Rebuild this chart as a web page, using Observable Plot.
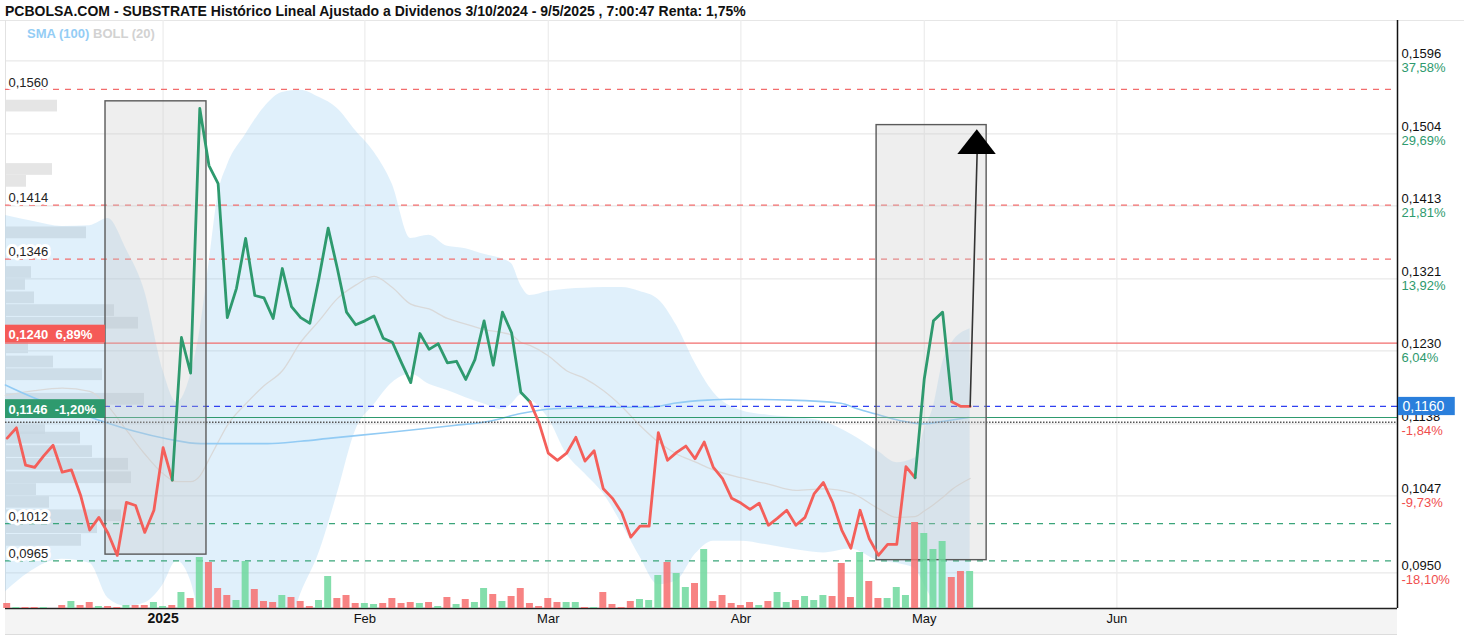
<!DOCTYPE html>
<html><head><meta charset="utf-8">
<script src="https://cdn.jsdelivr.net/npm/d3@7"></script>
<script src="https://cdn.jsdelivr.net/npm/@observablehq/plot@0.6"></script>
<style>
body{margin:0;background:#fff;}
#wrap{position:relative;width:1464px;height:638px;overflow:hidden;background:#fff;font-family:"Liberation Sans",Arial,sans-serif;}
#wrap svg{position:absolute;left:0;top:0;}
#strip{position:absolute;left:5px;top:609px;width:1392px;height:25px;background:#f4f4f4;border-bottom:1px solid #dcdcdc;}
#title{position:absolute;left:5px;top:3px;font:bold 14px "Liberation Sans",Arial,sans-serif;color:#111;white-space:nowrap;}
#topline{position:absolute;left:0;top:20px;width:1464px;height:1px;background:#e6e6e6;}
#legend{position:absolute;left:27px;top:26px;font:bold 13px "Liberation Sans",Arial,sans-serif;white-space:nowrap;z-index:5;}
</style></head>
<body><div id="wrap"><div id="strip"></div><div id="topline"></div>
<div id="title">PCBOLSA.COM - SUBSTRATE Histórico Lineal Ajustado a Dividenos 3/10/2024 - 9/5/2025 , 7:00:47 Renta: 1,75%</div>
<div id="legend"><span style="color:#94cdf5">SMA (100)</span> <span style="color:#d2d2d2">BOLL (20)</span></div>
</div>
<script>
// ---------- DATA ----------
// closing price per trading day (index 0 = 5/12/2024 ... index 105 = 9/5/2025)
const close = [0.1120,0.1133,0.1086,0.1083,0.1098,0.1111,0.1077,0.1080,0.1048,0.1004,
0.1020,0.1000,0.0972,0.1039,0.1035,0.1001,0.1029,0.1108,0.1067,0.1247,
0.1202,0.1536,0.1464,0.1441,0.1272,0.1309,0.1372,0.1300,0.1297,0.1271,
0.1334,0.1286,0.1272,0.1265,0.1322,0.1385,0.1334,0.1279,0.1263,0.1268,
0.1274,0.1246,0.1241,0.1215,0.1190,0.1252,0.1232,0.1239,0.1215,0.1217,
0.1194,0.1219,0.1268,0.1212,0.1279,0.1253,0.1178,0.1166,0.1139,0.1101,
0.1092,0.1101,0.1121,0.1091,0.1104,0.1056,0.1044,0.1026,0.0995,0.1009,
0.1009,0.1127,0.1092,0.1102,0.1110,0.1094,0.1115,0.1083,0.1069,0.1044,
0.1038,0.1030,0.1038,0.1010,0.1019,0.1029,0.1010,0.1020,0.1050,0.1064,
0.1039,0.1004,0.0981,0.1029,0.0993,0.0972,0.0986,0.0986,0.1084,0.1070,
0.1195,0.1268,0.1279,0.1166,0.1160,0.1160];
// daily volume (relative units)
const volume = [5,1,1,1,1,0,3,7,3,6,2,2,1,3,3,3,6,2,3,16,
10,51,46,20,13,8,47,19,7,6,13,11,7,2,8,32,10,13,5,5,
4,5,10,5,6,5,6,2,11,4,9,6,20,14,7,12,20,5,2,10,
6,6,6,1,1,16,4,1,7,9,8,33,46,35,21,25,59,7,13,5,
3,6,3,7,16,6,8,12,8,13,12,45,11,56,27,10,10,21,13,86,
75,59,67,31,37,37];
// bar colour per day: u = up (green), d = down (red)
const volumeDir = ["dudduududd","uddudduudu","duddduuddd","uddduudddu","uddddududu",
"duududdddd","duududdddu","uuduududdd","dduduuduuu","dddudduuud","uuuddu"].join("");
// trend colouring of the price line
const trendStarts = [0,18,57,99,103];
const trendDir = ["down","up","down","up","down"];
// Bollinger (20) bands, sampled
const bandIdx = [-0.2,3,6,9,11,13,15,17,18.5,20,21,22,23,24,26,28,30,32,34,36,38,40,42,44,46,48,50,52,54,55,56,57,59,61,63,65,67,69,71,73,75,77,80,83,86,89,92,95,97,99,100,101,102,103,105];
const bandUp = [0.1401,0.1393,0.1387,0.1388,0.1397,0.1358,0.1305,0.1205,0.1165,0.1200,0.1255,0.1340,0.1427,0.1464,0.1503,0.1537,0.1556,0.1559,0.1550,0.1536,0.1508,0.1481,0.1440,0.1372,0.1376,0.1362,0.1359,0.1352,0.1346,0.1340,0.1313,0.1300,0.1305,0.1308,0.1309,0.1310,0.1310,0.1305,0.1295,0.1262,0.1215,0.1178,0.1155,0.1149,0.1146,0.1141,0.1125,0.1103,0.1089,0.1095,0.1130,0.1160,0.1215,0.1240,0.1258];
const bandMid = [0.1174,0.1180,0.1183,0.1179,0.1160,0.1130,0.1100,0.1075,0.1065,0.1065,0.1072,0.1093,0.1115,0.1136,0.1163,0.1186,0.1205,0.1241,0.1268,0.1296,0.1313,0.1324,0.1310,0.1289,0.1283,0.1271,0.1264,0.1257,0.1253,0.1250,0.1241,0.1237,0.1224,0.1205,0.1195,0.1180,0.1160,0.1136,0.1115,0.1100,0.1090,0.1080,0.1070,0.1062,0.1054,0.1056,0.1051,0.1031,0.1020,0.1021,0.1028,0.1036,0.1045,0.1055,0.1069];
const bandLow = [0.0926,0.0955,0.0967,0.0962,0.0918,0.0908,0.0912,0.0935,0.0965,0.0940,0.0895,0.0850,0.0805,0.0808,0.0822,0.0836,0.0855,0.0923,0.0975,0.1050,0.1130,0.1162,0.1190,0.1201,0.1188,0.1180,0.1171,0.1163,0.1156,0.1163,0.1174,0.1169,0.1145,0.1100,0.1075,0.1050,0.1012,0.0970,0.0935,0.0940,0.0973,0.0990,0.0990,0.0985,0.0979,0.0975,0.0980,0.0965,0.0962,0.0955,0.0935,0.0912,0.0880,0.0862,0.0830];
// SMA (100), sampled
const smaIdx = [-0.2,2.9,6.6,10.2,13.8,17.5,21.1,24.7,28.4,32,35.3,41.5,48.7,52.4,56,59.6,65,70.2,72.7,76.4,78.9,85.4,90.9,92.7,94.5,97.4,99.9,102.5,104.8];
const smaVal = [0.1187,0.1171,0.1157,0.1142,0.1129,0.1119,0.1113,0.1113,0.1113,0.1116,0.1120,0.1127,0.1136,0.1141,0.1151,0.1157,0.1159,0.1159,0.1164,0.1168,0.1169,0.1168,0.1164,0.1157,0.1151,0.1142,0.1138,0.1142,0.1146];
// volume-by-price profile
const profPrice = [0.1539,0.1459,0.1444,0.1379,0.1329,0.1314,0.1297,0.1281,0.1265,0.1234,0.1216,0.1200,0.1169,0.1132,0.1120,0.1103,0.1087,0.1070,0.1055,0.1039,0.1022,0.1007,0.0991];
const profVol = [52,47,21,81,26,20,29,109,133,23,48,97,139,40,75,87,123,126,31,44,116,92,76];
// axis ticks
const monthIdx = [17,39,59,80,100,121];
const monthLabels = ["2025","Feb","Mar","Abr","May","Jun"];
const rightTicks = [0.1596,0.1504,0.1413,0.1321,0.1230,0.1138,0.1047,0.0950];
const rightPct = ["37,58%","29,69%","21,81%","13,92%","6,04%","-1,84%","-9,73%","-18,10%"];
// levels
const lastPrice = 0.1160;
const redDashLevels = [0.1560,0.1414,0.1346];
const greenDashLevels = [0.1012,0.0965];
const redLevel = 0.1240, redLevelPct = "6,89%";
const greenLevel = 0.1146, greenLevelPct = "-1,20%";
const dottedLevel = 0.1140;
// annotation boxes and arrow (index, price)
const boxes = [{i1:10.72,i2:21.73,p1:0.0973,p2:0.1545},{i1:94.8,i2:106.8,p1:0.0966,p2:0.1515}];
const arrowLine = [{i:105,p:0.1160},{i:105.78,p:0.1487}];
const arrowHead = [{i:103.66,lo:0.1478,hi:0.1478},{i:105.78,lo:0.1478,hi:0.1509},{i:107.85,lo:0.1478,hi:0.1478}];

// ---------- CHART ----------
const W=1464,H=638,mL=5,mR=67,mT=20,mB=30;
const xDom=[-0.185,151.6], yDom=[0.0905,0.1647];
const GREEN="#2e9a6e", RED="#f45f5a", LRED="#f26d6d", LGREEN="#3aa57a";
const fmt = v => v.toFixed(4).replace(".",",");
const base = {width:W,height:H,marginLeft:mL,marginRight:mR,marginTop:mT,marginBottom:mB,
  style:{background:"transparent",fontFamily:"Liberation Sans, Arial, sans-serif",overflow:"visible"}};
const wrap=document.getElementById("wrap");

// layer 1: volume profile
const prof = profPrice.map((p,k)=>({p,v:profVol[k]}));
wrap.appendChild(Plot.plot({...base,
  x:{domain:[0,1392],axis:null}, y:{domain:yDom,axis:null},
  marks:[Plot.rectX(prof,{x1:0,x2:"v",y1:d=>d.p-0.00074,y2:d=>d.p+0.00074,fill:"#dcdcdc",fillOpacity:0.75})]
}));

// layer 2: main chart
const band = bandIdx.map((i,k)=>({i,up:bandUp[k],mid:bandMid[k],lo:bandLow[k]}));
const sma = smaIdx.map((i,k)=>({i,v:smaVal[k]}));
const segs=[];
trendStarts.forEach((s,k)=>{const e=k+1<trendStarts.length?trendStarts[k+1]:close.length-1;
  for(let i=s;i<=e;i++) segs.push({i,p:close[i],seg:k,dir:trendDir[k]});});
const months = monthIdx.map((i,k)=>({i,t:monthLabels[k]}));
const rt = rightTicks.map((v,k)=>({v,pct:rightPct[k]}));
const xMax=xDom[1], xMin=xDom[0];

wrap.appendChild(Plot.plot({...base,
  x:{domain:xDom,axis:null}, y:{domain:yDom,axis:null},
  marks:[
    Plot.ruleY(rightTicks,{stroke:"#e9e9e9",strokeWidth:1.2}),
    Plot.ruleX(monthIdx,{stroke:"#ececec",strokeWidth:1.2}),
    Plot.ruleX([xMin],{stroke:"#e2e2e2"}),
    Plot.areaY(band,{x:"i",y1:"lo",y2:"up",fill:"#8ec9f0",fillOpacity:0.28,curve:"monotone-x",clip:true}),
    Plot.line(band,{x:"i",y:"mid",stroke:"#d9d9d9",strokeWidth:1.3,curve:"monotone-x"}),
    Plot.line(sma,{x:"i",y:"v",stroke:"#92cbf4",strokeWidth:1.6,curve:"monotone-x"}),
    Plot.ruleY(redDashLevels,{stroke:LRED,strokeWidth:1.2,strokeDasharray:"6,6"}),
    Plot.ruleY(greenDashLevels,{stroke:LGREEN,strokeWidth:1.2,strokeDasharray:"6,6"}),
    Plot.ruleY([redLevel],{stroke:LRED,strokeWidth:1.2}),
    Plot.ruleY([greenLevel],{stroke:GREEN,strokeWidth:1.2}),
    Plot.ruleY([dottedLevel],{stroke:"#555",strokeWidth:1.6,strokeDasharray:"1.5,1.5"}),
    Plot.ruleY([lastPrice],{stroke:"#2f3ff0",strokeWidth:1.4,strokeDasharray:"6,5"}),
    Plot.rect(boxes,{x1:"i1",x2:"i2",y1:"p1",y2:"p2",fill:"#c8c8c8",fillOpacity:0.31,stroke:"#5a5a5a",strokeWidth:1.4}),
    Plot.line(segs,{x:"i",y:"p",z:"seg",stroke:d=>d.dir==="up"?GREEN:RED,strokeWidth:2.8,strokeLinejoin:"round"}),
    Plot.line(arrowLine,{x:"i",y:"p",stroke:"#333",strokeWidth:1.6}),
    Plot.areaY(arrowHead,{x:"i",y1:"lo",y2:"hi",fill:"#000"}),
    // left level labels
    Plot.text([...redDashLevels,...greenDashLevels],{y:d=>d,text:fmt,frameAnchor:"left",textAnchor:"start",dx:3,dy:-7,fontSize:13,fill:"#222",stroke:"white",strokeWidth:6,paintOrder:"stroke"}),
    Plot.rect([redLevel],{x1:xMin,x2:xMin+10.9,y1:d=>d,y2:d=>d+0.00225,fill:"#f55a57"}),
    Plot.text([redLevel],{y:d=>d,text:d=>fmt(d)+"\u00a0 "+redLevelPct,frameAnchor:"left",textAnchor:"start",dx:3,dy:-8,fontSize:13,fontWeight:"bold",fill:"white"}),
    Plot.rect([greenLevel],{x1:xMin,x2:xMin+10.9,y1:d=>d,y2:d=>d+0.00225,fill:GREEN}),
    Plot.text([greenLevel],{y:d=>d,text:d=>fmt(d)+"\u00a0 "+greenLevelPct,frameAnchor:"left",textAnchor:"start",dx:3,dy:-8,fontSize:13,fontWeight:"bold",fill:"white"}),
    // frame
    Plot.ruleX([xMax],{stroke:"#111",strokeWidth:1.5}),
    Plot.ruleY([yDom[0]],{stroke:"#222",strokeWidth:1.5}),
    // right axis
    Plot.text(rt,{y:"v",text:d=>fmt(d.v),frameAnchor:"right",textAnchor:"start",dx:4,dy:-7,fontSize:13,fill:"#111"}),
    Plot.text(rt,{y:"v",text:"pct",frameAnchor:"right",textAnchor:"start",dx:4,dy:7,fontSize:13,fill:d=>d.pct.startsWith("-")?"#f04e4e":GREEN}),
    Plot.rect([lastPrice],{x1:xMax+0.1,x2:xMax+6.3,y1:d=>d-0.00116,y2:d=>d+0.00114,fill:"#2a7fdc"}),
    Plot.text([lastPrice],{y:d=>d,text:fmt,frameAnchor:"right",textAnchor:"start",dx:5,fontSize:14,fill:"white"}),
    // x axis labels
    Plot.text(months.slice(0,1),{x:"i",text:"t",frameAnchor:"bottom",dy:14,fontSize:14,fontWeight:"bold",fill:"#111"}),
    Plot.text(months.slice(1),{x:"i",text:"t",frameAnchor:"bottom",dy:14,fontSize:13,fill:"#111"})
  ]
}));

// layer 3: volume bars
const vol = volume.map((v,i)=>({i,v,dir:volumeDir[i]}));
wrap.appendChild(Plot.plot({...base, marginTop:508,
  x:{domain:xDom,axis:null}, y:{domain:[0,100],axis:null},
  marks:[Plot.rectY(vol,{x1:d=>d.i-0.38,x2:d=>d.i+0.38,y1:0,y2:"v",fill:d=>d.dir==="u"?"#6fd89d":"#f66d6d",fillOpacity:0.85})]
}));
</script></body></html>
